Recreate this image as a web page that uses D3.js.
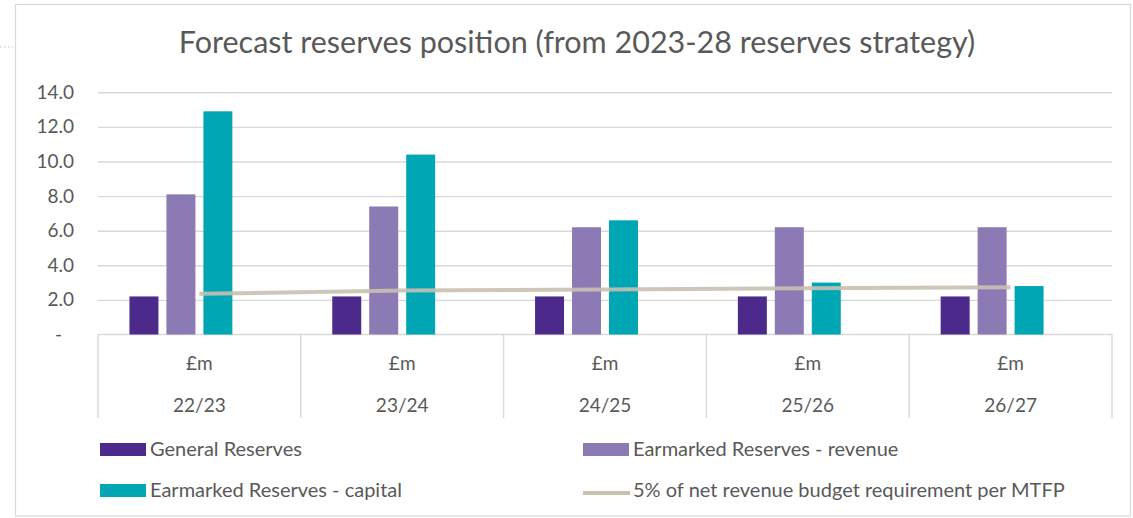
<!DOCTYPE html>
<html>
<head>
<meta charset="utf-8">
<script src="https://cdn.jsdelivr.net/npm/d3@7"></script>
<style>
  body { margin: 0; background: #fff; }
  svg { display: block; }
  text { font-family: Lato, "Open Sans", sans-serif; fill: #595959; }
</style>
</head>
<body>
<svg id="chart" width="1133" height="518"></svg>
<script>
// Forecast reserves, £m, by financial year
const years = ["22/23", "23/24", "24/25", "25/26", "26/27"];
const unitLabel = "£m";
const generalReserves   = [2.2, 2.2, 2.2, 2.2, 2.2];
const earmarkedRevenue  = [8.1, 7.4, 6.2, 6.2, 6.2];
const earmarkedCapital  = [12.9, 10.4, 6.6, 3.0, 2.8];
const fivePercentBudget = [2.35, 2.55, 2.6, 2.67, 2.73];
const yTicks = [0, 2, 4, 6, 8, 10, 12, 14];
const seriesNames = [
  "General Reserves",
  "Earmarked Reserves - revenue",
  "Earmarked Reserves - capital",
  "5% of net revenue budget requirement per MTFP"
];
const titleText = "Forecast reserves position (from 2023-28 reserves strategy)";

const colors = {
  general: "#4b2a8c",
  revenue: "#8c7ab4",
  capital: "#00a6b4",
  budget: "#c9c0b1",
  grid: "#d9d9d9",
  text: "#595959"
};

const svg = d3.select("#chart");
const plot = { left: 98, right: 1112, top: 92.3, bottom: 334.5 };
const catBottom = 418;

// Outer chart frame
svg.append("rect")
  .attr("x", 15.5).attr("y", 4.5)
  .attr("width", 1115).attr("height", 511.5)
  .attr("fill", "#fff").attr("stroke", "#d9d9d9").attr("stroke-width", 1.2);

// small dotted connector at the left edge
svg.append("line")
  .attr("x1", 0).attr("x2", 13).attr("y1", 47).attr("y2", 47)
  .attr("stroke", "#c5cc9c").attr("stroke-width", 1.2)
  .attr("stroke-dasharray", "1.5,2.5");

// Scales
const y = d3.scaleLinear().domain([0, 14]).range([plot.bottom, plot.top]);
const x0 = d3.scaleBand().domain(years).range([plot.left, plot.right]);
// four cluster slots: three bar series plus the slot held by the line series
const slots = ["general", "revenue", "capital", "budget"];
const x1 = d3.scaleBand().domain(slots).range([0, x0.bandwidth()])
  .paddingInner(8 / 37).paddingOuter(0.851);

// Title
svg.append("text")
  .attr("x", 577).attr("y", 53)
  .attr("text-anchor", "middle")
  .style("font-size", "30.5px")
  .text(titleText);

// Y gridlines and labels
const yAxis = d3.axisLeft(y)
  .tickValues(yTicks)
  .tickSize(-(plot.right - plot.left))
  .tickPadding(24)
  .tickFormat(d => d === 0 ? "-" : d3.format(".1f")(d));

const gy = svg.append("g")
  .attr("transform", `translate(${plot.left},0)`)
  .call(yAxis);
gy.select(".domain").remove();
gy.selectAll(".tick line")
  .attr("stroke", colors.grid).attr("stroke-width", 1.4)
  .attr("display", d => d === 0 ? "none" : null);
gy.selectAll(".tick text")
  .style("font-size", "19px")
  .attr("fill", colors.text)
  .attr("dx", d => d === 0 ? -12 : 0);

// Category axis with boxes
const catAxis = svg.append("g");
catAxis.append("line")
  .attr("x1", plot.left).attr("x2", plot.right)
  .attr("y1", plot.bottom).attr("y2", plot.bottom)
  .attr("stroke", colors.grid).attr("stroke-width", 1.4);
const bounds = years.map(yr => x0(yr)).concat([plot.right]);
catAxis.selectAll("line.sep")
  .data(bounds)
  .join("line")
  .attr("class", "sep")
  .attr("x1", d => d).attr("x2", d => d)
  .attr("y1", plot.bottom).attr("y2", catBottom)
  .attr("stroke", colors.grid).attr("stroke-width", 1.4);
catAxis.selectAll("text.unit")
  .data(years)
  .join("text")
  .attr("class", "unit")
  .attr("x", d => x0(d) + x0.bandwidth() / 2)
  .attr("y", 370)
  .attr("text-anchor", "middle")
  .style("font-size", "19px")
  .text(unitLabel);
catAxis.selectAll("text.year")
  .data(years)
  .join("text")
  .attr("class", "year")
  .attr("x", d => x0(d) + x0.bandwidth() / 2)
  .attr("y", 412)
  .attr("text-anchor", "middle")
  .style("font-size", "19px")
  .text(d => d);

// Bars
const barSeries = [
  { key: "general", values: generalReserves, color: colors.general },
  { key: "revenue", values: earmarkedRevenue, color: colors.revenue },
  { key: "capital", values: earmarkedCapital, color: colors.capital }
];
barSeries.forEach(s => {
  svg.append("g").selectAll("rect")
    .data(years.map((yr, i) => ({ yr, v: s.values[i] })))
    .join("rect")
    .attr("x", d => x0(d.yr) + x1(s.key))
    .attr("y", d => y(d.v))
    .attr("width", x1.bandwidth())
    .attr("height", d => y(0) - y(d.v))
    .attr("fill", s.color);
});

// 5% budget requirement line
const line = d3.line()
  .x((d, i) => x0(years[i]) + x0.bandwidth() / 2)
  .y(d => y(d));
svg.append("path")
  .datum(fivePercentBudget)
  .attr("d", line)
  .attr("fill", "none")
  .attr("stroke", colors.budget)
  .attr("stroke-opacity", 0.9)
  .attr("stroke-width", 4)
  .attr("stroke-linecap", "butt");

// Legend
const legendItems = [
  { name: seriesNames[0], color: colors.general, type: "bar", x: 100, y: 456 },
  { name: seriesNames[1], color: colors.revenue, type: "bar", x: 583, y: 456 },
  { name: seriesNames[2], color: colors.capital, type: "bar", x: 100, y: 497 },
  { name: seriesNames[3], color: colors.budget, type: "line", x: 583, y: 497 }
];
const lg = svg.append("g").selectAll("g")
  .data(legendItems)
  .join("g")
  .attr("transform", d => `translate(${d.x},${d.y})`);
lg.filter(d => d.type === "bar").append("rect")
  .attr("x", 0).attr("y", -13)
  .attr("width", 46).attr("height", 13)
  .attr("fill", d => d.color);
lg.filter(d => d.type === "line").append("line")
  .attr("x1", 0).attr("x2", 47).attr("y1", -4).attr("y2", -4)
  .attr("stroke", d => d.color).attr("stroke-width", 4);
lg.append("text")
  .attr("x", 50).attr("y", 0)
  .style("font-size", "20px")
  .text(d => d.name);
</script>
</body>
</html>
